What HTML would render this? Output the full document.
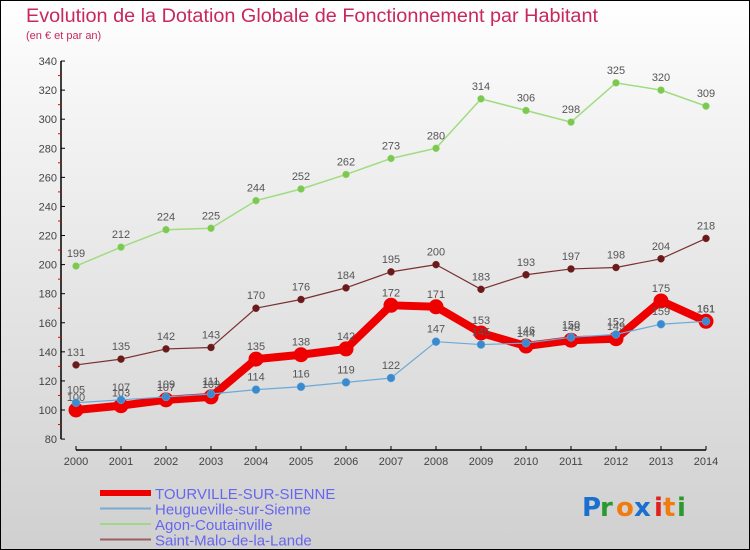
<!DOCTYPE html>
<html><head><meta charset="utf-8"><style>
body{margin:0}
#c{width:750px;height:550px;position:relative;box-sizing:border-box;border:1px solid #000;background:linear-gradient(#fff,#f4f4f4 20%,#d0d0d0);font-family:"Liberation Sans",sans-serif;overflow:hidden}
</style></head><body>
<div id="c">
<svg id="s" width="748" height="548" viewBox="1 1 748 548">
<text x="26" y="22" font-size="19" fill="#c8285a" font-family="Liberation Sans" textLength="572" lengthAdjust="spacingAndGlyphs">Evolution de la Dotation Globale de Fonctionnement par Habitant</text>
<text x="26" y="39" font-size="11" fill="#c8285a">(en € et par an)</text>
<g id="ax"></g><g id="ser"></g><g id="leg"></g>
<g font-size="26" font-family="DejaVu Sans" font-weight="bold">
<text x="582" y="516" fill="#1a6fd0">P</text><text x="600" y="516" fill="#2a9a30">r</text><text x="616" y="516" fill="#f07c10">o</text><text x="634" y="516" fill="#1a6fd0">x</text><text x="654" y="516" fill="#e02020">i</text><text x="663" y="516" fill="#f07c10">t</text><text x="677" y="516" fill="#2a9a30">i</text>
</g>
</svg>
</div>
<script>
const years=["2000","2001","2002","2003","2004","2005","2006","2007","2008","2009","2010","2011","2012","2013","2014"];
const tourville=[100,103,107,109,135,138,142,172,171,153,144,148,149,175,161];
const heugueville=[105,107,109,111,114,116,119,122,147,145,146,150,152,159,161];
const agon=[199,212,224,225,244,252,262,273,280,314,306,298,325,320,309];
const saintmalo=[131,135,142,143,170,176,184,195,200,183,193,197,198,204,218];
const yTicks=[80,100,120,140,160,180,200,220,240,260,280,300,320,340];
const NS="http://www.w3.org/2000/svg";
const X=i=>76+i*45, Y=v=>410-(v-100)*1.454;
function mk(t,a,p){const e=document.createElementNS(NS,t);for(const k in a)e.setAttribute(k,a[k]);p.appendChild(e);return e;}
const ax=document.getElementById('ax');
let e=mk('line',{x1:61,y1:Y(340),x2:61,y2:Y(80),stroke:'#000','stroke-width':1.5},ax);


e=mk('line',{x1:X(0),y1:450,x2:X(14),y2:450,stroke:'#000','stroke-width':1.5},ax);


yTicks.forEach((v,i)=>{
  mk('line',{x1:61,y1:Y(v),x2:65,y2:Y(v),stroke:'#000'},ax);
  if(i<yTicks.length-1)mk('line',{x1:58,y1:Y(v+10),x2:61,y2:Y(v+10),stroke:'#e00'},ax);
  const t=mk('text',{x:57,y:Y(v)+4,'font-size':11,fill:'#444','text-anchor':'end'},ax);t.textContent=v;
  
  
});
years.forEach((y,i)=>{
  mk('line',{x1:X(i),y1:446,x2:X(i),y2:450,stroke:'#000'},ax);
  const t=mk('text',{x:X(i),y:465,'font-size':11,fill:'#444','text-anchor':'middle'},ax);t.textContent=y;
  
  
});
const ser=document.getElementById('ser');
function draw(d,name,col,dot,w,r){
  const g=mk('g',{},ser);
  
  
  mk('polyline',{points:d.map((v,i)=>X(i)+','+Y(v)).join(' '),fill:'none',stroke:col,'stroke-width':w,'stroke-linejoin':'round'},g);
  d.forEach((v,i)=>{
    const c=mk('circle',{cx:X(i),cy:Y(v),r:r,fill:dot,stroke:col,'stroke-width':w>3?1:0.5},g);
    
    
    const t=mk('text',{x:X(i),y:Y(v)-9,'font-size':11,fill:'#555','text-anchor':'middle'},g);t.textContent=v;
    
    
  });
}
draw(agon,'agon','#a0dc80','#7cc850',1.5,3.5);
draw(saintmalo,'saint-malo','#7a3030','#6a1a1a',1.2,3.5);
draw(tourville,'tourville','#ee0000','#ee0000',8,7);
draw(heugueville,'heugueville','#6aaad8','#3a8ad0',1.2,4);
const leg=document.getElementById('leg');
const le=[["TOURVILLE-SUR-SIENNE","#ee0000",6],["Heugueville-sur-Sienne","#7aaad0",2],["Agon-Coutainville","#a0d888",2],["Saint-Malo-de-la-Lande","#9a6060",2]];
le.forEach((l,i)=>{
  const y=493+i*15.5;
  const g=mk('g',{},leg);
  
  
  mk('line',{x1:100,y1:y,x2:151,y2:y,stroke:l[1],'stroke-width':l[2]},g);
  const t=mk('text',{x:155,y:y+6,'font-size':15,fill:'#6666ee'},g);t.textContent=l[0];
});
</script>
</body></html>
